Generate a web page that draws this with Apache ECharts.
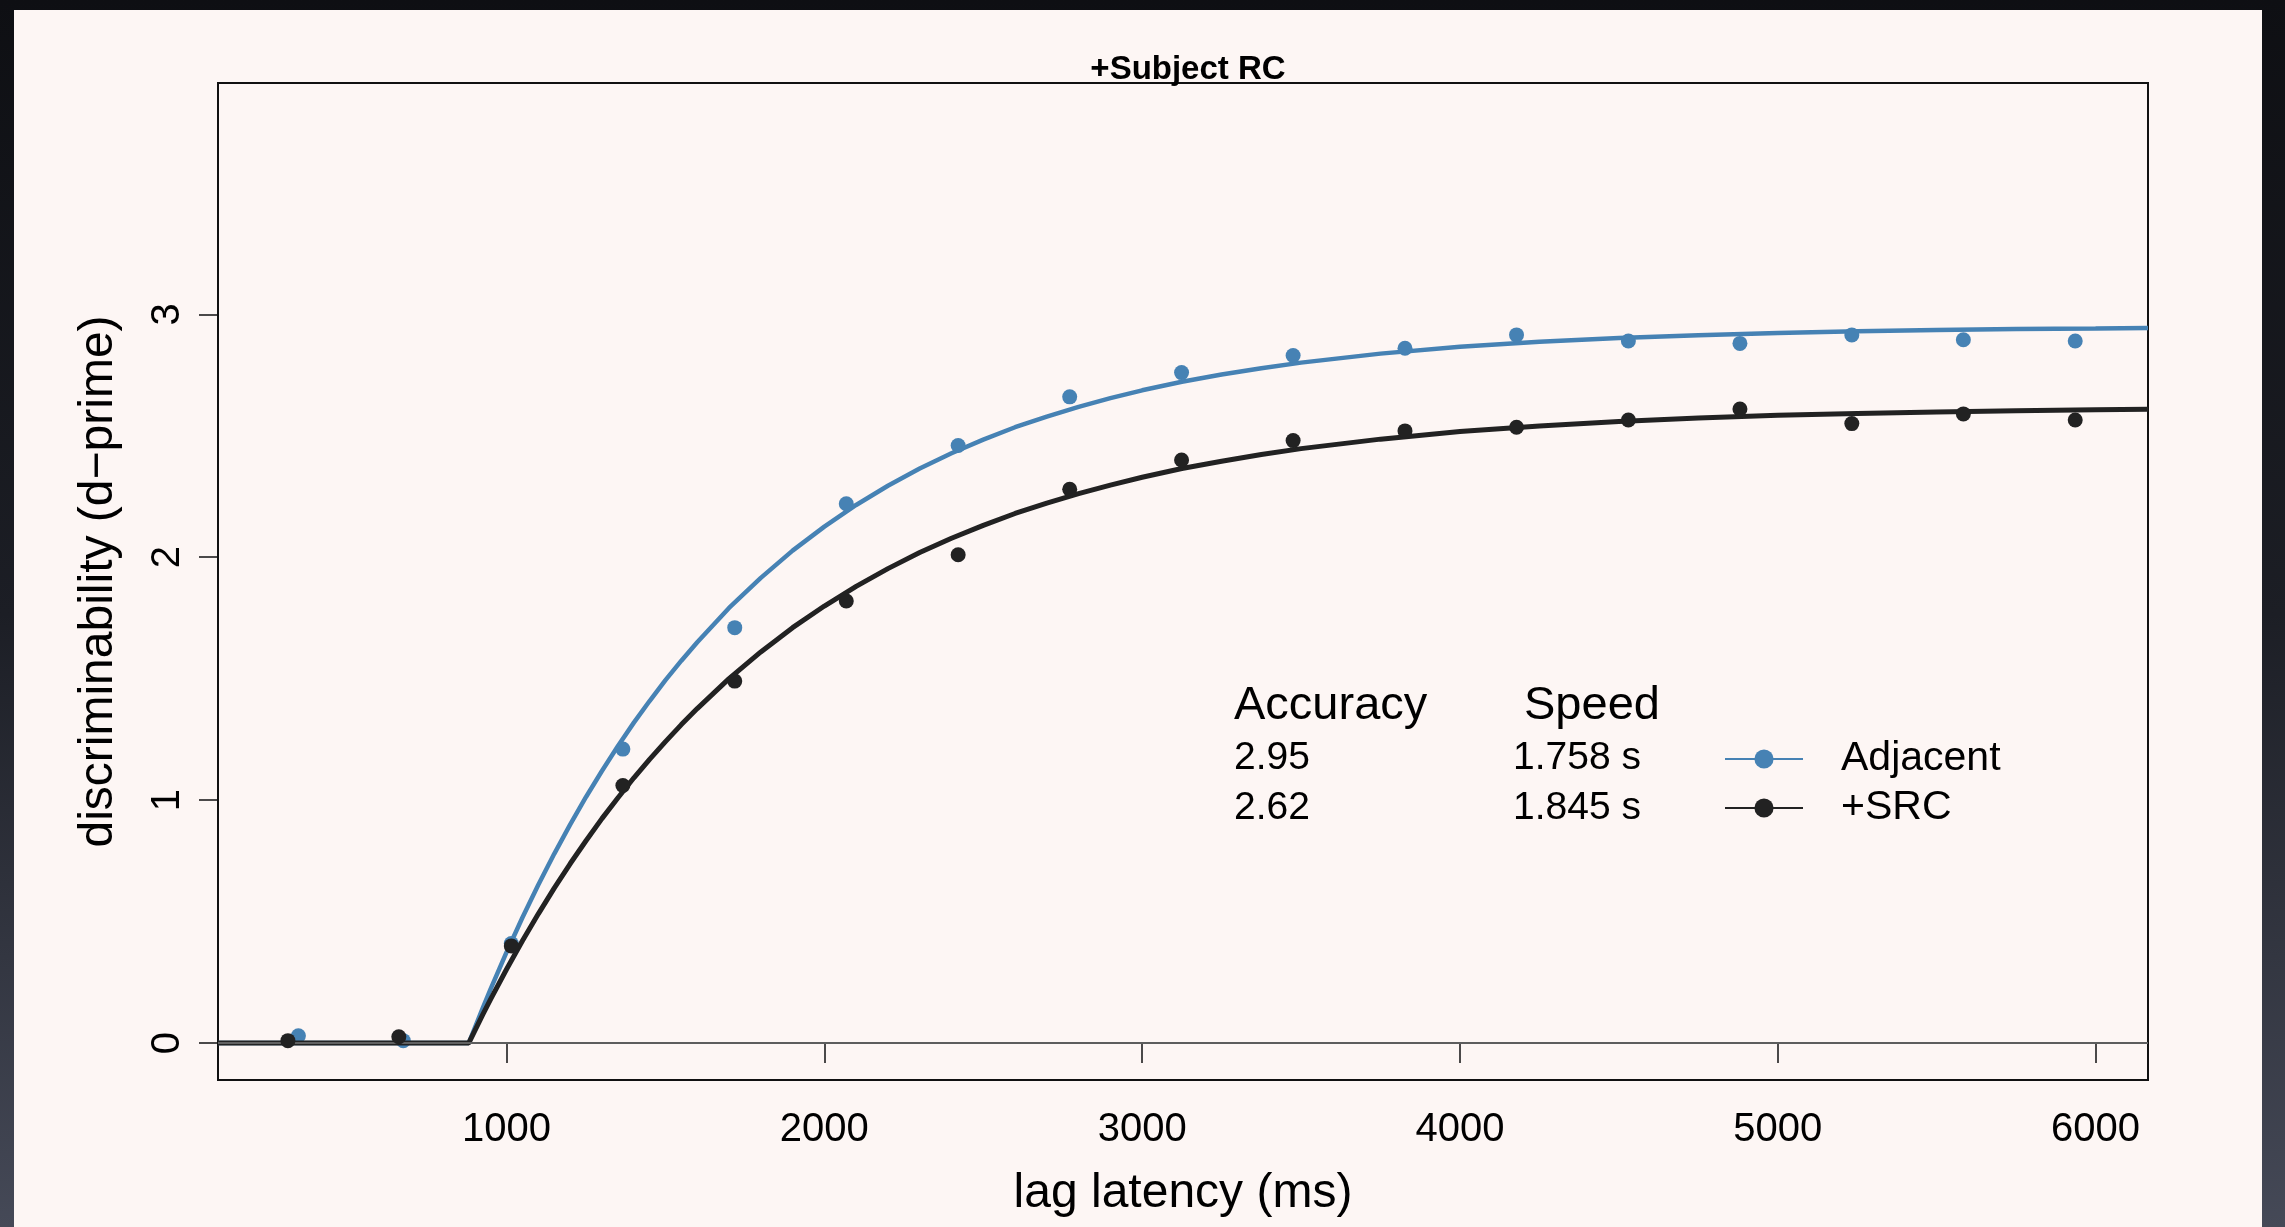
<!DOCTYPE html>
<html>
<head>
<meta charset="utf-8">
<title>+Subject RC</title>
<script src="https://cdn.jsdelivr.net/npm/echarts@6.0.0/dist/echarts.min.js"></script>
<style>
    html, body { margin: 0; padding: 0; }
    body { width: 2285px; height: 1227px; position: relative; overflow: hidden;
           background: linear-gradient(180deg, #0e0f13 0%, #1c1e25 50%, #454957 100%); }
    .panel { position: absolute; left: 14px; top: 10px; width: 2248px; height: 1217px; background: #fdf6f4; }
    #chart_dprime { position: absolute; left: 0; top: 0; width: 2285px; height: 1227px; }
</style>
</head>
<body>
<div class="panel"></div>
<div id="chart_dprime"></div>
<script>
// 观测点 (lag ms, d')
var adj_lag = [345, 675, 1015, 1366, 1718, 2069, 2421, 2772, 3124, 3475, 3827, 4178, 4530, 4881, 5233, 5584, 5936];
var adj_d = [0.03, 0.01, 0.41, 1.21, 1.71, 2.22, 2.46, 2.66, 2.76, 2.83, 2.86, 2.915, 2.89, 2.88, 2.915, 2.895, 2.89];
var src_lag = [312, 661, 1015, 1366, 1718, 2069, 2421, 2772, 3124, 3475, 3827, 4178, 4530, 4881, 5233, 5584, 5936];
var src_d = [0.01, 0.026, 0.40, 1.06, 1.49, 1.82, 2.01, 2.28, 2.40, 2.48, 2.52, 2.535, 2.565, 2.61, 2.55, 2.59, 2.565];

// 拟合曲线
var fit_lag = [92, 881, 925, 950, 1000, 1050, 1100, 1150, 1200, 1250, 1300, 1350, 1400, 1450, 1500, 1550, 1600, 1700, 1800, 1900,
               2000, 2100, 2200, 2300, 2400, 2500, 2600, 2700, 2800, 2900, 3000, 3125, 3250, 3375, 3500, 3750, 4000, 4250, 4500, 4750,
               5000, 5250, 5500, 5750, 6000, 6165];
var fit_adj = [0, 0, 0.144, 0.223, 0.374, 0.517, 0.652, 0.779, 0.899, 1.013, 1.120, 1.222, 1.318, 1.408, 1.494, 1.574, 1.650, 1.791, 1.915, 2.027,
               2.126, 2.215, 2.294, 2.365, 2.428, 2.484, 2.535, 2.579, 2.619, 2.655, 2.687, 2.722, 2.752, 2.778, 2.801, 2.838, 2.866, 2.887, 2.902, 2.914,
               2.923, 2.930, 2.935, 2.939, 2.941, 2.943];
var fit_src = [0, 0, 0.117, 0.181, 0.304, 0.421, 0.532, 0.638, 0.738, 0.833, 0.924, 1.009, 1.091, 1.168, 1.241, 1.311, 1.377, 1.500, 1.610, 1.710,
               1.799, 1.880, 1.953, 2.019, 2.078, 2.131, 2.180, 2.223, 2.262, 2.297, 2.329, 2.365, 2.395, 2.423, 2.447, 2.486, 2.517, 2.540, 2.559, 2.573,
               2.584, 2.592, 2.598, 2.603, 2.607, 2.609];

var x_ticks = [1000, 2000, 3000, 4000, 5000, 6000];
var y_ticks = [0, 1, 2, 3];
var group_names = ['Adjacent', '+SRC'];
var accuracy = ['2.95', '2.62'];
var speed = ['1.758 s', '1.845 s'];

var FONT = '"Liberation Sans", Arial, Helvetica, sans-serif';
var BLUE = '#4682b4', DARK = '#222222';

function pairs(xs, ys){
    var out = [];
    for(var i=0;i<xs.length;i++){
        out.push([xs[i], ys[i]]);
    }
    return out;
}

var myChart = echarts.init(document.getElementById('chart_dprime'), null, {renderer: 'canvas'});
var option = {
    animation: false,
    backgroundColor: 'transparent',
    textStyle: { fontFamily: FONT },
    title: {
        text: '+Subject RC',
        left: 1183,
        textAlign: 'center',
        top: 48,
        textStyle: { fontFamily: FONT, fontWeight: 'bold', fontSize: 33, color: '#000' }
    },
    grid: {
        left: 218, right: 137, top: 83, bottom: 147,
        show: true, borderColor: '#111', borderWidth: 2, backgroundColor: 'transparent'
    },
    legend: {
        data: group_names,
        orient: 'vertical',
        left: 1719,
        top: 732,
        itemWidth: 78,
        itemHeight: 24,
        itemGap: 5,
        selectedMode: false,
        lineStyle: { width: 2 },
        textStyle: { fontFamily: FONT, fontSize: 41, color: '#000', lineHeight: 44, padding: [0, 0, 0, 33] }
    },
    xAxis: {
        type: 'value',
        min: 92,
        max: 6165,
        name: 'lag latency (ms)',
        nameLocation: 'middle',
        nameGap: 90,
        nameTextStyle: { fontFamily: FONT, fontSize: 48, color: '#000' },
        axisLine: { show: true, lineStyle: { color: '#111', width: 2 } },
        axisTick: { show: true, inside: false, length: 20, customValues: x_ticks, lineStyle: { color: '#111', width: 1.5 } },
        axisLabel: {
            customValues: x_ticks, fontFamily: FONT, fontSize: 40, color: '#000', margin: 30,
            formatter: function(v){ return String(v); }
        },
        splitLine: { show: false }
    },
    yAxis: {
        type: 'value',
        min: -0.152,
        max: 3.952,
        name: 'discriminability (d\u2212prime)',
        nameLocation: 'middle',
        nameGap: 95,
        nameTextStyle: { fontFamily: FONT, fontSize: 48, color: '#000' },
        axisLine: { show: true, lineStyle: { color: '#111', width: 2 } },
        axisTick: { show: true, inside: false, length: 19, customValues: y_ticks, lineStyle: { color: '#111', width: 1.5 } },
        axisLabel: { customValues: y_ticks, rotate: 90, fontFamily: FONT, fontSize: 40, color: '#000', margin: 30 },
        splitLine: { show: false }
    },
    graphic: [
        { type: 'text', left: 1234, top: 683, style: { text: 'Accuracy', font: '47px ' + FONT, fill: '#000' } },
        { type: 'text', left: 1524, top: 683, style: { text: 'Speed', font: '47px ' + FONT, fill: '#000' } },
        { type: 'text', left: 1234, top: 739, style: { text: accuracy[0], font: '39px ' + FONT, fill: '#000' } },
        { type: 'text', left: 1513, top: 739, style: { text: speed[0], font: '39px ' + FONT, fill: '#000' } },
        { type: 'text', left: 1234, top: 789, style: { text: accuracy[1], font: '39px ' + FONT, fill: '#000' } },
        { type: 'text', left: 1513, top: 789, style: { text: speed[1], font: '39px ' + FONT, fill: '#000' } }
    ],
    series: [
        {
            name: 'Adjacent',
            type: 'line',
            color: BLUE,
            symbol: 'circle',
            showSymbol: false,
            lineStyle: { color: BLUE, width: 4.5 },
            data: pairs(fit_lag, fit_adj),
            markLine: {
                silent: true,
                symbol: 'none',
                label: { show: false },
                lineStyle: { color: '#777', width: 1.5, type: 'solid' },
                data: [{ yAxis: 0 }]
            },
            z: 2
        },
        {
            name: 'Adjacent obs',
            type: 'scatter',
            symbol: 'circle',
            symbolSize: 15,
            itemStyle: { color: BLUE, opacity: 1 },
            data: pairs(adj_lag, adj_d),
            z: 3
        },
        {
            name: '+SRC',
            type: 'line',
            color: DARK,
            symbol: 'circle',
            showSymbol: false,
            lineStyle: { color: DARK, width: 5 },
            data: pairs(fit_lag, fit_src),
            z: 4
        },
        {
            name: '+SRC obs',
            type: 'scatter',
            symbol: 'circle',
            symbolSize: 15,
            itemStyle: { color: DARK, opacity: 1 },
            data: pairs(src_lag, src_d),
            z: 5
        }
    ]
};
myChart.setOption(option);
</script>
</body>
</html>
